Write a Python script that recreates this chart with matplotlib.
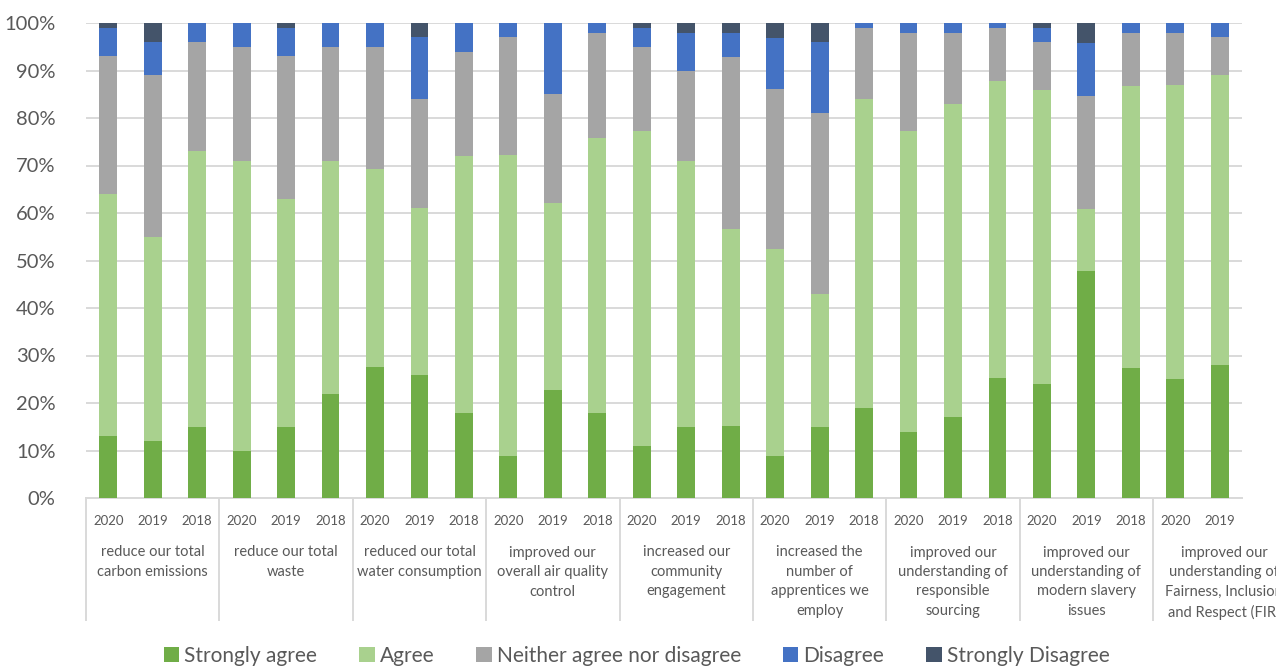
import matplotlib
matplotlib.use("Agg")
import matplotlib.pyplot as plt
import matplotlib.ticker as mticker
from matplotlib.patches import Patch
from matplotlib.transforms import Bbox
import numpy as np

plt.rcParams["font.family"] = ["Lato", "DejaVu Sans"]

# ---------------------------------------------------------------
# Data (percent of respondents)
# ---------------------------------------------------------------
groups = [
    "reduce our total\ncarbon emissions",
    "reduce our total\nwaste",
    "reduced our total\nwater consumption",
    "improved our\noverall air quality\ncontrol",
    "increased our\ncommunity\nengagement",
    "increased the\nnumber of\napprentices we\nemploy",
    "improved our\nunderstanding of\nresponsible\nsourcing",
    "improved our\nunderstanding of\nmodern slavery\nissues",
    "improved our\nunderstanding of\nFairness, Inclusion\nand Respect (FIR)",
]
group_years = [
    ["2020", "2019", "2018"],
    ["2020", "2019", "2018"],
    ["2020", "2019", "2018"],
    ["2020", "2019", "2018"],
    ["2020", "2019", "2018"],
    ["2020", "2019", "2018"],
    ["2020", "2019", "2018"],
    ["2020", "2019", "2018"],
    ["2020", "2019"],
]

series = ["Strongly agree", "Agree", "Neither agree nor disagree",
          "Disagree", "Strongly Disagree"]

strongly_agree = [13, 12, 15, 10, 15, 22, 27.6, 26, 18, 8.8, 22.8, 18,
                  11, 15, 15.1, 8.8, 15, 19, 13.8, 17, 25.2, 24, 47.7, 27.3, 25, 28]
agree = [51, 43, 58, 61, 48, 49, 41.6, 35, 54, 63.5, 39.3, 57.8,
         66.2, 56, 41.5, 43.6, 28, 65, 63.4, 66, 62.6, 62, 13.1, 59.5, 62, 61]
neither = [29, 34, 23, 24, 30, 24, 25.8, 23, 22, 24.7, 22.9, 22.2,
           17.8, 19, 36.3, 33.7, 38, 15, 20.8, 15, 11.2, 10, 23.9, 11.2, 11, 8]
disagree = [6, 7, 4, 5, 6, 5, 5, 13, 6, 3, 15, 2,
            4, 8, 5.1, 10.8, 15, 1, 2, 2, 1, 3, 11, 2, 2, 3]
strongly_disagree = [1, 4, 0, 0, 1, 0, 0, 3, 0, 0, 0, 0,
                     1, 2, 2, 3.1, 4, 0, 0, 0, 0, 1, 4.3, 0, 0, 0]

colors = ["#70AD47", "#A9D18E", "#A5A5A5", "#4472C4", "#44546A"]
TEXT = "#595959"
GRID = "#D9D9D9"

# ---------------------------------------------------------------
# Figure
# ---------------------------------------------------------------
fig = plt.figure(figsize=(12.86, 6.68), dpi=100)
ax = fig.add_axes([86 / 1286, 170 / 668, 1156 / 1286, 475 / 668])

values = [strongly_agree, agree, neither, disagree, strongly_disagree]
n = len(strongly_agree)
x = np.arange(n)
bottom = np.zeros(n)
for vals, col in zip(values, colors):
    vals = np.array(vals, dtype=float)
    ax.bar(x, vals, 0.4, bottom=bottom, color=col, zorder=3)
    bottom += vals

ax.set_xlim(-0.5, n - 0.5)
ax.set_ylim(0, 100)
ax.yaxis.set_major_locator(mticker.MultipleLocator(10))
ax.yaxis.set_major_formatter(mticker.FuncFormatter(lambda v, _: f"{v:.0f}%"))
ax.grid(True, axis="y", color=GRID, linewidth=1.4, zorder=0)
for s in ["top", "right", "left"]:
    ax.spines[s].set_visible(False)
ax.spines["bottom"].set_color(GRID)
ax.spines["bottom"].set_linewidth(1.4)
ax.tick_params(axis="y", length=0, pad=22, labelsize=14.5, labelcolor=TEXT)

year_labels = [y for ys in group_years for y in ys]
ax.set_xticks(x, year_labels)
ax.tick_params(axis="x", length=0, pad=12.5, labelsize=9.5, labelcolor=TEXT)

# multi-level category axis
clip = Bbox.from_extents(0, 0, 1276, 668)
start = 0
for label, ys in zip(groups, group_years):
    ax.axvline(start - 0.5, ymin=-0.257, ymax=0, color=GRID,
               linewidth=1.4, clip_on=False)
    cx = start + (len(ys) - 1) / 2
    if len(ys) < 3:
        cx += 0.6
    t = ax.text(cx, -0.1, label, transform=ax.get_xaxis_transform(),
                ha="center", va="top", fontsize=10.5, color=TEXT,
                linespacing=1.5, multialignment="center")
    t.set_clip_box(clip)
    t.set_clip_on(True)
    start += len(ys)

handles = [Patch(facecolor=c, edgecolor="none") for c in colors]
fig.legend(handles, series, loc="center", bbox_to_anchor=(0.495, 1 - 656 / 668),
           ncol=5, frameon=False, fontsize=15, labelcolor=TEXT,
           handlelength=0.75, handleheight=0.75, handletextpad=0.25,
           columnspacing=2.0)

fig.savefig("out.png", dpi=100)
